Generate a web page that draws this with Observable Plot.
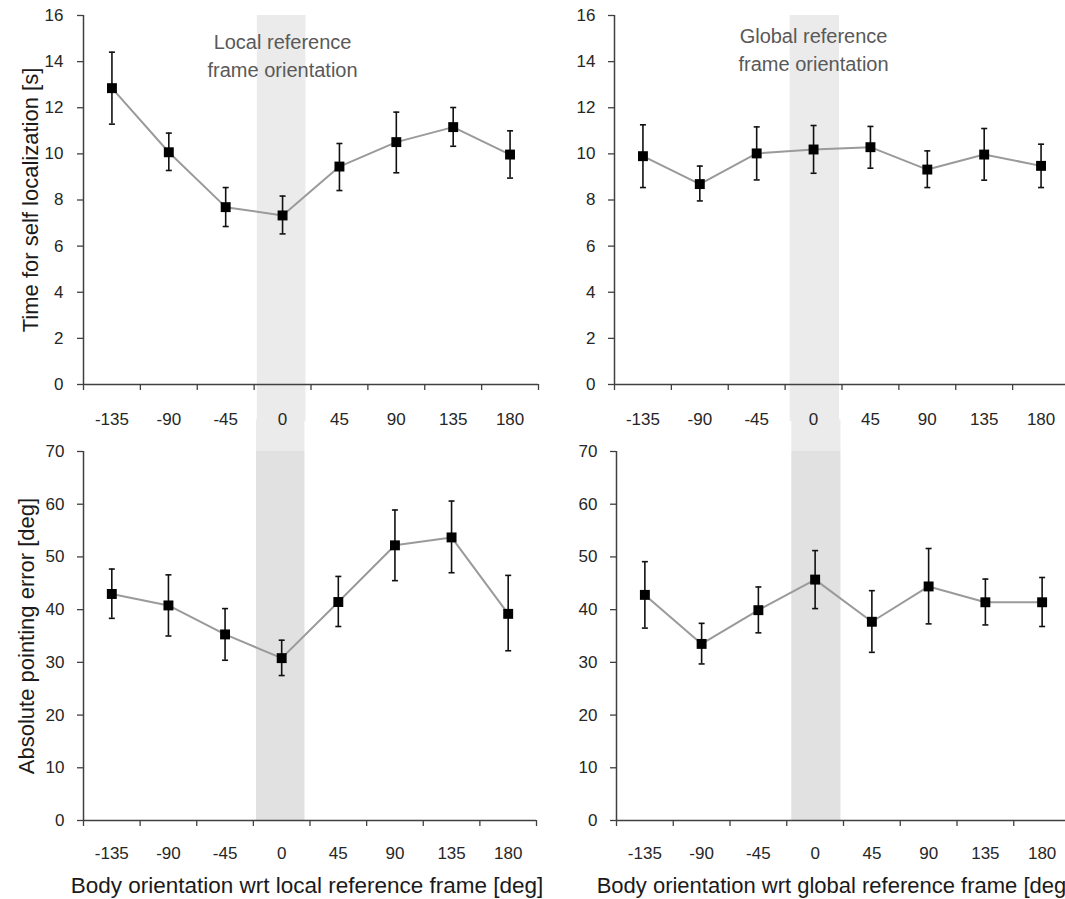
<!DOCTYPE html>
<html>
<head>
<meta charset="utf-8">
<script src="https://cdn.jsdelivr.net/npm/d3@7"></script>
<script src="https://cdn.jsdelivr.net/npm/@observablehq/plot@0.6"></script>
<style>
  html, body { margin: 0; padding: 0; background: #fff; }
  #fig { position: relative; width: 1065px; height: 899px; overflow: hidden; background: #fff; }
  #fig > svg { position: absolute; }
</style>
</head>
<body>
<div id="fig"></div>
<script>
// ---------- data ----------
const orientations = [-135, -90, -45, 0, 45, 90, 135, 180];

const timeLocalMean = [12.85, 10.07, 7.69, 7.33, 9.45, 10.51, 11.16, 9.97];
const timeLocalLow  = [11.29, 9.28, 6.85, 6.53, 8.41, 9.18, 10.33, 8.95];
const timeLocalHigh = [14.41, 10.90, 8.54, 8.17, 10.45, 11.81, 12.01, 11.00];

const timeGlobalMean = [9.90, 8.69, 10.02, 10.19, 10.29, 9.32, 9.97, 9.48];
const timeGlobalLow  = [8.54, 7.96, 8.87, 9.16, 9.38, 8.54, 8.86, 8.54];
const timeGlobalHigh = [11.26, 9.47, 11.17, 11.23, 11.19, 10.13, 11.10, 10.42];

const errorLocalMean = [42.97, 40.8, 35.3, 30.8, 41.45, 52.2, 53.7, 39.2];
const errorLocalLow  = [38.35, 35.0, 30.4, 27.5, 36.8, 45.5, 47.0, 32.2];
const errorLocalHigh = [47.7, 46.6, 40.2, 34.2, 46.3, 58.9, 60.6, 46.5];

const errorGlobalMean = [42.8, 33.5, 39.9, 45.7, 37.7, 44.4, 41.4, 41.4];
const errorGlobalLow  = [36.5, 29.7, 35.6, 40.2, 31.9, 37.3, 37.1, 36.8];
const errorGlobalHigh = [49.1, 37.4, 44.3, 51.2, 43.6, 51.6, 45.8, 46.1];

const shadeLocal = [-20, 18.5];
const shadeGlobal = [-18.5, 20.5];

const timeTicks = [0, 2, 4, 6, 8, 10, 12, 14, 16];
const errorTicks = [0, 10, 20, 30, 40, 50, 60, 70];

const timeTitle = "Time for self localization [s]";
const errorTitle = "Absolute pointing error [deg]";
const xTitleLocal = "Body orientation wrt local reference frame [deg]";
const xTitleGlobal = "Body orientation wrt global reference frame [deg]";
const noteLocal = "Local reference\nframe orientation";
const noteGlobal = "Global reference\nframe orientation";

// ---------- drawing ----------
const FONT = '"Liberation Sans", Arial, Helvetica, sans-serif';
const half = 22.5;
const xDomain = [orientations[0] - half, orientations[orientations.length - 1] + half];
const boundaries = orientations.map(o => o - half).concat([orientations[orientations.length - 1] + half]);

const capSymbol = {
  draw(context, size) {
    const w = Math.sqrt(size / Math.PI);
    context.moveTo(-w, 0);
    context.lineTo(w, 0);
  }
};

function panel(o) {
  const rows = orientations.map((x, i) => ({x, y: o.mean[i], lo: o.low[i], hi: o.high[i]}));
  const marks = [];
  // shading band
  marks.push(Plot.rect([o.shade], {
    x1: d => d[0], x2: d => d[1], y1: () => o.lightY[0], y2: () => o.lightY[1], fill: "#ebebeb"
  }));
  if (o.darkY) {
    marks.push(Plot.rect([o.shade], {
      x1: d => d[0], x2: d => d[1], y1: () => o.darkY[0], y2: () => o.darkY[1], fill: "#e1e1e1"
    }));
  }
  // axes
  marks.push(Plot.axisY({ticks: o.yTicks, tickSize: 6, tickPadding: o.yPad, label: null, fontSize: 17, stroke: "#404040", strokeWidth: 1.3}));
  marks.push(Plot.axisX({ticks: boundaries, tickSize: 6, tickFormat: () => "", label: null, stroke: "#404040", strokeWidth: 1.3}));
  marks.push(Plot.axisX({ticks: orientations, tickSize: 0, tickPadding: o.xPad, label: null, fontSize: 17, tickFormat: d => String(d)}));
  marks.push(Plot.ruleY([o.yDomain[0]], {stroke: "#404040", strokeWidth: 1.5}));
  marks.push(Plot.ruleX([xDomain[0]], {stroke: "#404040", strokeWidth: 1.5}));
  // series
  marks.push(Plot.line(rows, {x: "x", y: "y", stroke: "#9a9a9a", strokeWidth: 2}));
  marks.push(Plot.ruleX(rows, {x: "x", y1: "lo", y2: "hi", stroke: "#111", strokeWidth: 1.6}));
  marks.push(Plot.dot(rows, {x: "x", y: "lo", symbol: capSymbol, r: 3, stroke: "#111", strokeWidth: 1.6, fill: "none"}));
  marks.push(Plot.dot(rows, {x: "x", y: "hi", symbol: capSymbol, r: 3, stroke: "#111", strokeWidth: 1.6, fill: "none"}));
  marks.push(Plot.dot(rows, {x: "x", y: "y", symbol: "square", r: 5.6, fill: "#000", stroke: "none"}));
  // titles
  if (o.yTitle) {
    marks.push(Plot.text([o.yTitle], {text: d => d, frameAnchor: "left", dx: o.yTitleDx, rotate: -90,
      textAnchor: "middle", fontSize: 22, fill: "#1a1a1a", lineAnchor: "middle"}));
  }
  if (o.xTitle) {
    marks.push(Plot.text([o.xTitle], {text: d => d, frameAnchor: "bottom", dy: o.xTitleDy, dx: o.xTitleDx || 0,
      textAnchor: "middle", fontSize: o.xTitleSize || 22.5, fill: "#1a1a1a", lineAnchor: "middle"}));
  }
  if (o.note) {
    marks.push(Plot.text([o.note], {text: d => d, x: () => 0, frameAnchor: "top", dy: o.noteDy,
      fontSize: 20, fill: "#595959", lineAnchor: "middle", lineHeight: 1.4}));
  }
  const svg = Plot.plot({
    width: o.width, height: o.height,
    marginLeft: o.ml, marginRight: o.mr, marginTop: o.mt, marginBottom: o.mb,
    x: {domain: xDomain, axis: null},
    y: {domain: o.yDomain, axis: null},
    style: {fontFamily: FONT, fontSize: "17px", color: "#262626", background: "transparent", overflow: "visible"},
    marks
  });
  svg.style.left = o.left + "px";
  svg.style.top = o.top + "px";
  document.getElementById("fig").appendChild(svg);
}

// bottom row first so that the top row's tick labels stay on top
panel({
  left: 0, top: 420, width: 540, height: 479, ml: 83, mr: 4, mt: 31, mb: 79,
  mean: errorLocalMean, low: errorLocalLow, high: errorLocalHigh,
  yDomain: [0, 70], yTicks: errorTicks, yPad: 13, xPad: 26,
  shade: shadeLocal, lightY: [70, 76], darkY: [0, 70],
  yTitle: errorTitle, yTitleDx: -57,
  xTitle: xTitleLocal, xTitleDy: 65, xTitleDx: -3
});
panel({
  left: 540, top: 420, width: 530, height: 479, ml: 76, mr: 0, mt: 31, mb: 79,
  mean: errorGlobalMean, low: errorGlobalLow, high: errorGlobalHigh,
  yDomain: [0, 70], yTicks: errorTicks, yPad: 13, xPad: 26,
  shade: shadeGlobal, lightY: [70, 76], darkY: [0, 70],
  xTitle: xTitleGlobal, xTitleDy: 65, xTitleDx: -9, xTitleSize: 22
});
panel({
  left: 0, top: 0, width: 540, height: 440, ml: 83, mr: 2, mt: 15, mb: 56,
  mean: timeLocalMean, low: timeLocalLow, high: timeLocalHigh,
  yDomain: [0, 16], yTicks: timeTicks, yPad: 14, xPad: 28,
  shade: shadeLocal, lightY: [-1.6, 16],
  yTitle: timeTitle, yTitleDx: -53,
  note: noteLocal, noteDy: 38.5
});
panel({
  left: 540, top: 0, width: 530, height: 440, ml: 74, mr: 1, mt: 15, mb: 56,
  mean: timeGlobalMean, low: timeGlobalLow, high: timeGlobalHigh,
  yDomain: [0, 16], yTicks: timeTicks, yPad: 13, xPad: 28,
  shade: shadeGlobal, lightY: [-1.6, 16],
  note: noteGlobal, noteDy: 32.5
});
</script>
</body>
</html>
